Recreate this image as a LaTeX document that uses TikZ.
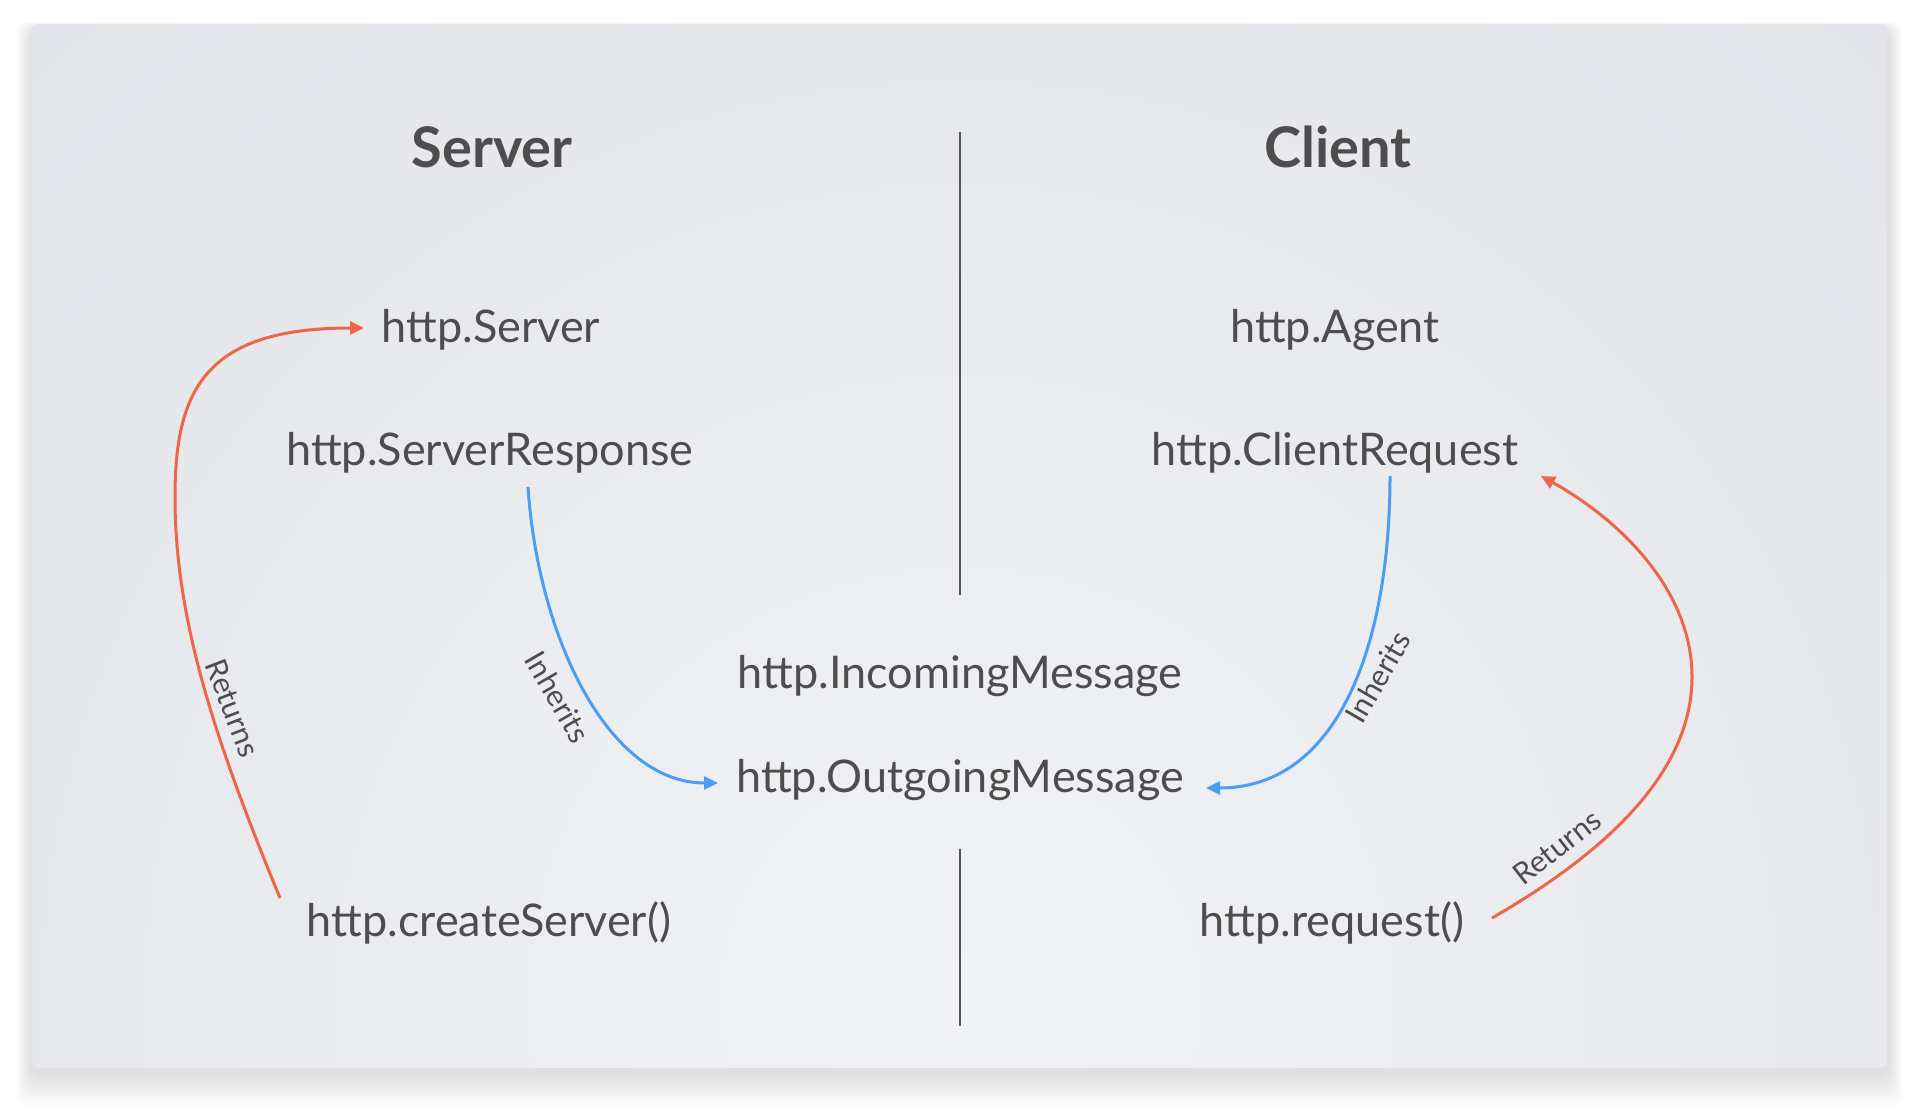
\documentclass[tikz,border=0pt]{standalone}
\usepackage{fontspec}
\setmainfont{Lato}
\usetikzlibrary{arrows.meta}
\definecolor{txt}{HTML}{4D4D4D}
\definecolor{redarr}{HTML}{EF6548}
\definecolor{bluearr}{HTML}{4A9DF2}
\definecolor{bgin}{HTML}{F1F2F5}
\definecolor{bgout}{HTML}{D3D6DC}
\definecolor{divline}{HTML}{555555}
\begin{document}
\begin{tikzpicture}[x=0.5pt,y=-0.5pt,
  cls/.style={font=\fontsize{22.5}{27}\selectfont, text=txt, anchor=base, inner sep=0pt},
  title/.style={font=\fontsize{28}{34}\selectfont\bfseries, text=txt, anchor=base, inner sep=0pt},
  lbl/.style={font=\fontsize{15}{18}\selectfont, text=txt, inner sep=0pt},
  ret/.style={draw=redarr, line width=1.5pt, -{Triangle[length=7pt,width=6.5pt]}},
  inh/.style={draw=bluearr, line width=1.5pt, -{Triangle[length=7pt,width=6.5pt]}},
  divider/.style={draw=divline, line width=0.8pt}]
\useasboundingbox (0,0) rectangle (1920,1109);
\fill[white] (0,0) rectangle (1920,1109);
\foreach \i in {1,...,16} {
  \fill[black, opacity=0.008, rounded corners=6pt] ({32-\i*1.0},{24-\i*0.4+4}) rectangle ({1887+\i*1.0},{1068+\i*2.2+4});
}
\begin{scope}
  \clip[rounded corners=3pt] (32,24) rectangle (1887,1068);
  \shade[inner color=bgin, outer color=bgout] (960,1000) circle (2700);
\end{scope}

% dividers
\draw[divider] (960,132) -- (960,595);
\draw[divider] (960,849) -- (960,1026);

% titles
\node[title] (tsrv) at (492,167) {Server};
\node[title] (tcli) at (1338,167) {Client};

% classes
\node[cls] (srv) at (491,342) {http.Server};
\node[cls] (srvresp) at (490,465) {http.ServerResponse};
\node[cls] (cs) at (489,936) {http.createServer()};
\node[cls] (agent) at (1335,342) {http.Agent};
\node[cls] (creq) at (1335,465) {http.ClientRequest};
\node[cls] (req) at (1332,936) {http.request()};
\node[cls] (inc) at (960,688) {http.IncomingMessage};
\node[cls] (out) at (960,792) {http.OutgoingMessage};

% connectors
\draw[ret] ([shift={(-209,-38)}]cs.base) .. controls (215,740) and (175,620) .. (175,497)
  .. controls (175,390) and (205,328) .. ([shift={(-127,-14)}]srv.base);
\draw[inh] ([shift={(38,22)}]srvresp.base) .. controls +(10,150) and +(-110,0) .. ([shift={(-242,-9)}]out.base);
\draw[inh] ([shift={(55,11)}]creq.base) .. controls +(0,165) and +(134,0) .. ([shift={(246,-4)}]out.base);
\draw[ret] ([shift={(160,-18)}]req.base) .. controls (1610,850) and (1692,770) .. (1692,677)
  .. controls (1692,590) and (1620,520) .. ([shift={(206,11)}]creq.base);

% labels
\node[lbl, rotate=-69] (lret1) at (233,708) {Returns};
\node[lbl, rotate=-60] (linh1) at (558,697) {Inherits};
\node[lbl, rotate=60] (linh2) at (1378,677) {Inherits};
\node[lbl, rotate=38] (lret2) at (1557,847) {Returns};
\end{tikzpicture}
\end{document}
